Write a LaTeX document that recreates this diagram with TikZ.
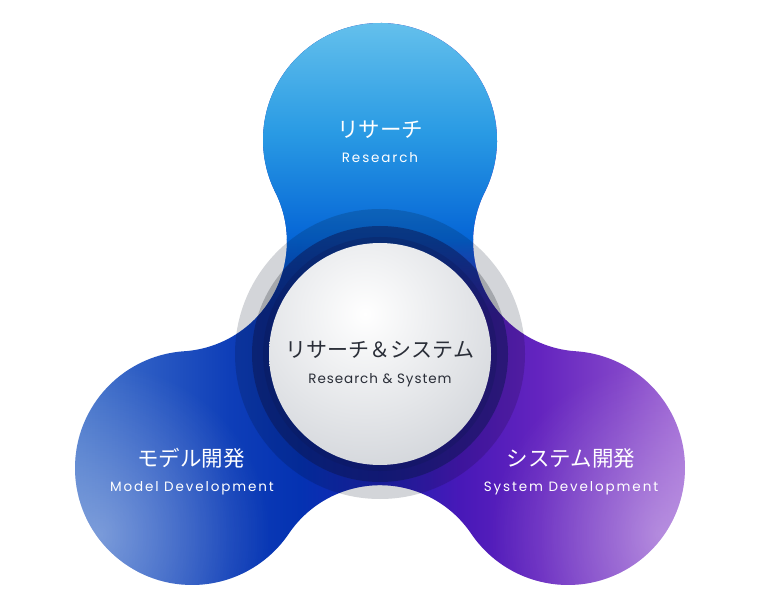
\documentclass[tikz,border=0pt]{standalone}
\usepackage{fontspec}
\setmainfont{Poppins}
\newfontfamily\jpfont{Noto Sans CJK JP}
\newfontfamily\enwide[LetterSpace=14]{Poppins}
\newfontfamily\ennarrow[LetterSpace=7]{Poppins}
\usetikzlibrary{fadings}
\definecolor{hA}{HTML}{4676CB}
\definecolor{hB}{HTML}{2A5AC3}
\definecolor{hC}{HTML}{0E3EB8}
\definecolor{hD}{HTML}{0432B2}
\definecolor{hE}{HTML}{1C22B2}
\definecolor{hF}{HTML}{4818B8}
\definecolor{hG}{HTML}{6424BF}
\definecolor{hH}{HTML}{8244C9}
\definecolor{hI}{HTML}{A26AD6}
\definecolor{topA}{HTML}{64C0EC}
\definecolor{topB}{HTML}{2A9BE4}
\definecolor{topC}{HTML}{0565D6}
\definecolor{ringlight}{HTML}{D3D5D9}
\definecolor{ringdark}{HTML}{A4A7AC}
\definecolor{navyring}{HTML}{0C1650}
\definecolor{wcouter}{HTML}{D2D5DA}
\definecolor{darktext}{HTML}{2A2E38}
\pgfdeclarehorizontalshading{lobesh}{100bp}{color(0bp)=(hA); color(25bp)=(hA); color(31.45bp)=(hB); color(37.9bp)=(hC); color(43.55bp)=(hD); color(50bp)=(hE); color(56.45bp)=(hF); color(62.9bp)=(hG); color(69.35bp)=(hH); color(75bp)=(hI); color(100bp)=(hI)}
\tikzfading[name=fadedown, top color=transparent!0, bottom color=transparent!100]
\tikzfading[name=glow, inner color=transparent!0, outer color=transparent!100]
\def\lobepath{([shift={(-26.56:117)}]380,474) arc[start angle=-26.56, end angle=206.56, radius=117] arc[start angle=26.56, end angle=-86.20, radius=110] arc[start angle=93.80, end angle=325.91, radius=117] arc[start angle=145.91, end angle=34.09, radius=110] arc[start angle=214.09, end angle=446.20, radius=117] arc[start angle=266.20, end angle=153.44, radius=110] -- cycle}
\tikzset{
  jpw/.style={font=\jpfont\fontsize{21.5}{25}\selectfont, text=white, inner sep=0pt},
  jpd/.style={font=\jpfont\fontsize{21}{25}\selectfont, text=darktext, inner sep=0pt},
  enw/.style={font=\enwide\fontsize{13.5}{16}\selectfont, text=white, inner sep=0pt, anchor=base},
  end/.style={font=\ennarrow\fontsize{13.5}{16}\selectfont, text=darktext, inner sep=0pt, anchor=base},
}
\begin{document}
\begin{tikzpicture}[x=1pt,y=1pt]
\fill[white] (0,0) rectangle (760,614);
\useasboundingbox (0,0) rectangle (760,614);
\coordinate (O) at (380,260);
% grey rings behind the lobes
\fill[ringlight] (O) circle (145);
\fill[ringdark] (O) circle (128);
% lobes
\begin{scope}
  \clip \lobepath;
  \shade[shading=lobesh] (70,0) rectangle (690,614);
  \fill[white, fill opacity=0.32, path fading=glow] (100,80) circle (170);
  \fill[white, fill opacity=0.30, path fading=glow] (660,80) circle (170);
  \shade[top color=topA, bottom color=topC, middle color=topB] (0,592) rectangle (760,374);
  \fill[topC, path fading=fadedown] (0,374.5) rectangle (760,300);
  \fill[black, fill opacity=0.15] (O) circle (145);
  \fill[navyring, fill opacity=0.5] (O) circle (128);
  \draw[navyring, opacity=0.25, line width=6] (O) circle (114);
\end{scope}
% white centre
\begin{scope}
  \clip (O) circle (111);
  \shade[inner color=white, outer color=wcouter] ([shift={(-15,40)}]O) circle (165);
\end{scope}
% texts
\node[jpw] (rt) at (380,484) {リサーチ};
\node[enw] (re) at (380,451.5) {Research};
\node[jpd] (ct) at (380,264) {リサーチ＆システム};
\node[end] (ce) at (380,230.5) {Research \& System};
\node[jpw] (lt) at (191,156) {モデル開発};
\node[enw] (le) at (192,122.5) {Model Development};
\node[jpw] (st) at (571,156) {システム開発};
\node[enw] (se) at (571,122.5) {System Development};
\end{tikzpicture}
\end{document}
